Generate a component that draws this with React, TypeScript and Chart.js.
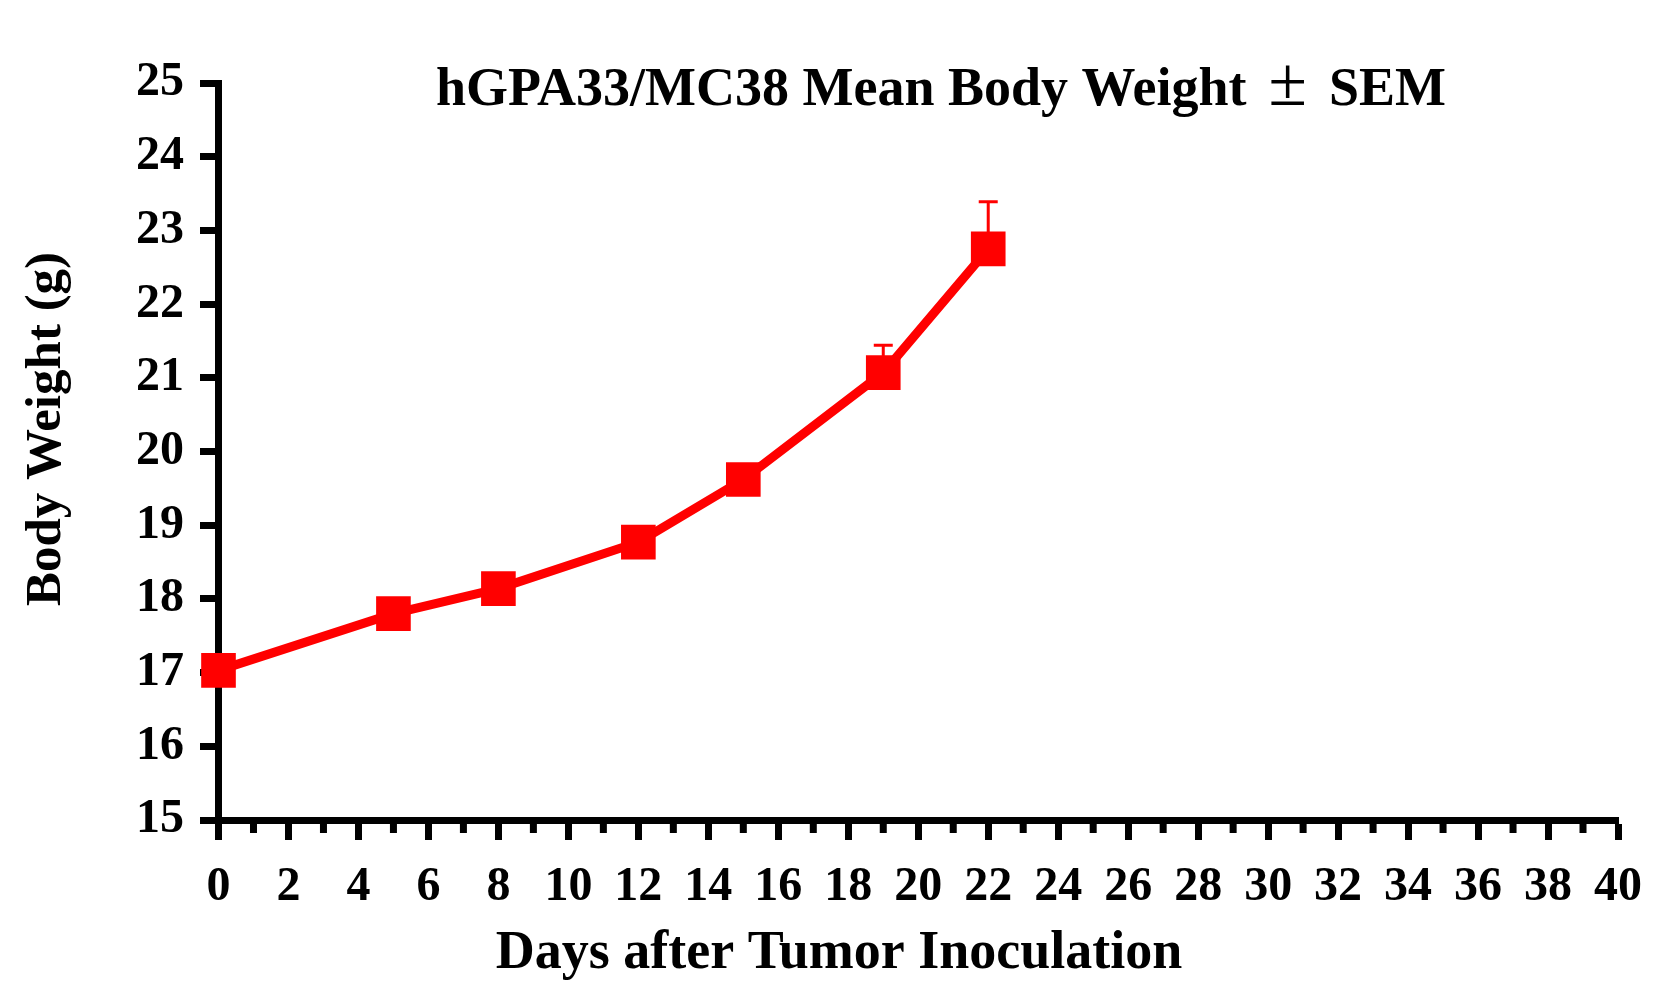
import React, { useEffect, useRef } from "react";
import { Chart, registerables } from "chart.js";

Chart.register(...registerables);

// ---- data ----
const days = [0, 5, 8, 12, 15, 19, 22];
const meanWeight = [17.03, 17.8, 18.14, 18.77, 19.62, 21.07, 22.75];
const semWeight = [0.1, 0.12, 0.12, 0.14, 0.18, 0.37, 0.64];
const xMin = 0;
const xMax = 40;
const xStep = 2;
const yMin = 15;
const yMax = 25;
const yStep = 1;
const chartTitleParts = ["hGPA33/MC38 Mean Body Weight", "\u00B1", "SEM"];
const xAxisTitle = "Days after Tumor Inoculation";
const yAxisTitle = "Body Weight (g)";

const RED = "#ff0000";
const FONT = "'Liberation Serif', 'Times New Roman', serif";

const W = 1662;
const H = 978;

const decorPlugin = {
  id: "decor",
  beforeDatasetsDraw(chart: any) {
    const { ctx } = chart;
    const xs = chart.scales.x;
    const ys = chart.scales.y;
    ctx.save();
    ctx.strokeStyle = RED;
    ctx.lineWidth = 3;
    for (let i = 0; i < days.length; i++) {
      const x = xs.getPixelForValue(days[i]);
      const y0 = ys.getPixelForValue(meanWeight[i]);
      const y1 = ys.getPixelForValue(meanWeight[i] + semWeight[i]);
      ctx.beginPath();
      ctx.moveTo(x, y0);
      ctx.lineTo(x, y1);
      ctx.moveTo(x - 9.5, y1);
      ctx.lineTo(x + 9.5, y1);
      ctx.stroke();
    }
    ctx.restore();
  },
  afterDraw(chart: any) {
    const { ctx, chartArea } = chart;
    const xs = chart.scales.x;
    ctx.save();
    // minor ticks
    ctx.fillStyle = "#000";
    for (let v = xMin + 1; v < xMax; v += xStep) {
      const x = xs.getPixelForValue(v);
      ctx.fillRect(x - 3.5, chartArea.bottom, 7, 13);
    }
    // main title (three runs: bold text, thin plus-minus, bold text)
    ctx.fillStyle = "#000";
    ctx.textBaseline = "alphabetic";
    ctx.textAlign = "left";
    const boldFont = `bold 54px ${FONT}`;
    const pmFont = `normal 70px ${FONT}`;
    const gap = 22;
    ctx.font = boldFont;
    const w1 = ctx.measureText(chartTitleParts[0]).width;
    const w3 = ctx.measureText(chartTitleParts[2]).width;
    ctx.font = pmFont;
    const w2 = ctx.measureText(chartTitleParts[1]).width;
    const total = w1 + gap + w2 + gap + w3;
    let tx = 933 - total / 2;
    const ty = 97;
    ctx.font = boldFont;
    ctx.fillText(chartTitleParts[0], tx, ty);
    tx += w1 + gap;
    ctx.font = pmFont;
    ctx.fillText(chartTitleParts[1], tx, ty);
    tx += w2 + gap;
    ctx.font = boldFont;
    ctx.fillText(chartTitleParts[2], tx, ty);
    // axis titles
    ctx.textAlign = "center";
    ctx.font = `bold 54px ${FONT}`;
    ctx.fillText(xAxisTitle, chart.width / 2, 960);
    ctx.save();
    ctx.translate(52, 421);
    ctx.rotate(-Math.PI / 2);
    ctx.font = `bold 51px ${FONT}`;
    ctx.fillText(yAxisTitle, 0, 0);
    ctx.restore();
    ctx.restore();
  },
};

export default function App() {
  const ref = useRef<HTMLCanvasElement>(null);
  useEffect(() => {
    if (!ref.current) return;
    const chart = new Chart(ref.current, {
      type: "line",
      data: {
        datasets: [
          {
            data: days.map((d, i) => ({ x: d, y: meanWeight[i] })),
            borderColor: RED,
            backgroundColor: RED,
            borderWidth: 9,
            pointStyle: "rect",
            pointRadius: 24.5,
            pointHoverRadius: 24.5,
            pointBorderWidth: 0,
            pointBackgroundColor: RED,
            tension: 0,
            clip: false as any,
          },
        ],
      },
      options: {
        animation: false,
        responsive: false,
        devicePixelRatio: 1,
        layout: { padding: { top: 75, right: 52, left: 0, bottom: 0 } },
        plugins: {
          legend: { display: false },
          title: { display: false },
          tooltip: { enabled: false },
        },
        events: [],
        scales: {
          x: {
            type: "linear",
            min: xMin,
            max: xMax,
            afterFit: (s: any) => {
              s.height = H - 812;
            },
            ticks: {
              stepSize: xStep,
              color: "#000",
              padding: 19,
              maxRotation: 0,
              autoSkip: false,
              font: { family: FONT, size: 48, weight: "bold" },
            },
            grid: {
              drawOnChartArea: false,
              drawTicks: true,
              tickLength: 20,
              tickWidth: 7,
              tickColor: "#000",
              color: "#000",
            },
            border: { display: true, color: "#000", width: 7 },
          },
          y: {
            type: "linear",
            min: yMin,
            max: yMax,
            afterFit: (s: any) => {
              s.width = 210.5;
            },
            ticks: {
              stepSize: yStep,
              color: "#000",
              padding: 16,
              autoSkip: false,
              font: { family: FONT, size: 48, weight: "bold" },
            },
            grid: {
              drawOnChartArea: false,
              drawTicks: true,
              tickLength: 18.5,
              tickWidth: 7,
              tickColor: "#000",
              color: "#000",
            },
            border: { display: true, color: "#000", width: 7 },
          },
        },
      },
      plugins: [decorPlugin],
    });
    return () => chart.destroy();
  }, []);
  return (
    <div style={{ width: W, height: H, background: "#fff" }}>
      <canvas ref={ref} width={W} height={H} style={{ width: W, height: H, display: "block" }} />
    </div>
  );
}
